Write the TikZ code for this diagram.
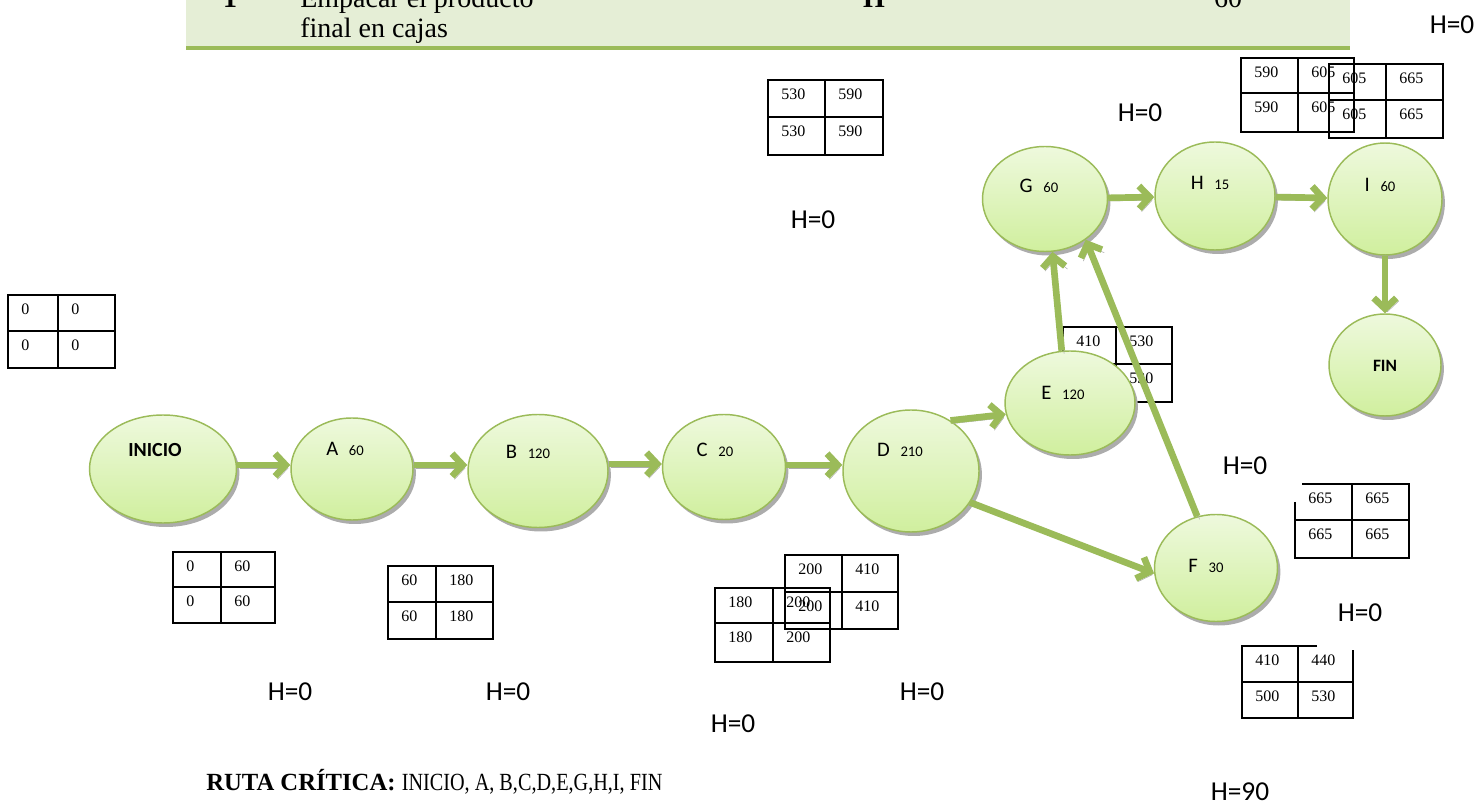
\documentclass[tikz,border=0pt]{standalone}
\usepackage{fontspec}
\setmainfont{Liberation Serif}
\newfontfamily\calib{Carlito}
\newfontfamily\narrowserif[FakeStretch=0.82]{Liberation Serif}
\usetikzlibrary{shapes.geometric,arrows.meta,shadows}
\definecolor{ngreen}{HTML}{9BBB59}
\definecolor{ntop}{HTML}{EEF9DD}
\definecolor{nbot}{HTML}{D0EF9E}
\definecolor{band}{HTML}{E5EED6}
\newcommand\tbl[6]{%
  \draw[cell] (#1,#2) rectangle (#5,#6);
  \draw[cell] (#3,#2) -- (#3,#6);
  \draw[cell] (#1,#4) -- (#5,#4);}
\newcommand\tnum[8]{%
  \node[num] at (#1+13,#2+14) {#5};
  \node[num] at (#3+13,#2+14) {#6};
  \node[num] at (#1+13,#4+14) {#7};
  \node[num] at (#3+13,#4+14) {#8};}
\begin{document}
\begin{tikzpicture}[x=0.75pt,y=-0.75pt,
  act/.style n args={2}{ellipse, draw=ngreen, line width=1.1pt, top color=ntop, bottom color=nbot,
     minimum width=#1*0.75pt, minimum height=#2*0.75pt, inner sep=0pt,
     general shadow={fill=gray!65, shadow xshift=2.2pt, shadow yshift=-3pt}},
  lbl/.style={font=\calib\fontsize{15.5}{17}\selectfont, inner sep=0pt},
  bl/.style={font=\calib\bfseries\fontsize{15}{17}\selectfont, inner sep=0pt},
  hz/.style={font=\calib\fontsize{20.5}{22}\selectfont, inner sep=0pt},
  num/.style={font=\fontsize{12}{14}\selectfont, inner sep=0pt, anchor=west},
  cell/.style={draw=black, line width=1.3pt},
  garr/.style={line width=5pt, draw=ngreen, -{Straight Barb[length=8pt,width=17pt]},
     preaction={draw=gray!65, transform canvas={shift={(1.8pt,-2.3pt)}}}},
  bandtxt/.style={font=\fontsize{21}{24}\selectfont, inner sep=0pt, anchor=base west}
]
\useasboundingbox (0,0) rectangle (1479,805);
\newcommand\sm[1]{{\fontsize{11}{13}\selectfont #1}}

% top band
\fill[band] (186,0) rectangle (1350,46);
\draw[ngreen, line width=2.5pt] (186,48) -- (1350,48);
\node[bandtxt, font=\bfseries\fontsize{21}{24}\selectfont, anchor=base] (b1) at (230,8) {1};
\node[bandtxt] (b2) at (300,8) {Empacar el producto};
\node[bandtxt] (b3) at (300,38) {final en cajas};
\node[bandtxt, font=\bfseries\fontsize{21}{24}\selectfont, anchor=base] (b4) at (874,8) {H};
\node[bandtxt, anchor=base] (b5) at (1228,8) {60};

% tables
\tbl{8}{295}{58}{331}{115}{368}
\tnum{8}{295}{58}{331}{0}{0}{0}{0}
\tbl{173}{552}{221}{587}{275}{623}
\tnum{173}{552}{221}{587}{0}{60}{0}{60}
\tbl{388}{566}{436}{602}{493}{639}
\tnum{388}{566}{436}{602}{60}{180}{60}{180}
\tbl{715}{588}{773}{623}{830}{662}
\tnum{715}{588}{773}{623}{180}{200}{180}{200}
\tbl{785}{555}{842}{592}{898}{629}
\tnum{785}{555}{842}{592}{200}{410}{200}{410}
\tbl{768}{80}{825}{117}{883}{155}
\tnum{768}{80}{825}{117}{530}{590}{530}{590}
\tbl{1241}{58}{1298}{93}{1354}{132}
\tnum{1241}{58}{1298}{93}{590}{605}{590}{605}
\tbl{1329}{64}{1386}{100}{1443}{138}
\tnum{1329}{64}{1386}{100}{605}{665}{605}{665}
\tbl{1063}{327}{1116}{364}{1172}{402}
\node[num] at (1076,341) {410};
\node[num] at (1129,341) {530};
\node[num] at (1129,378) {530};
% table with open corner (665)
\draw[cell] (1295,502) -- (1295,558) -- (1409,558) -- (1409,484) -- (1302,484);
\draw[cell] (1352,484) -- (1352,558);
\draw[cell] (1295,520) -- (1409,520);
\tnum{1295}{484}{1352}{520}{665}{665}{665}{665}
% table with open corner (410/440)
\draw[cell] (1317,646) -- (1242,646) -- (1242,718) -- (1353,718) -- (1353,650);
\draw[cell] (1298,646) -- (1298,718);
\draw[cell] (1242,682) -- (1353,682);
\tnum{1242}{646}{1298}{682}{410}{440}{500}{530}

% activity nodes
\node[act={147}{108}] (INICIO) at (163,469) {};
\node[act={122}{102}] (A) at (352,469) {};
\node[act={140}{113}] (B) at (538,471) {};
\node[act={123}{105}] (C) at (724,467) {};
\node[act={136}{122}] (D) at (911,471) {};
\node[act={130}{104}] (E) at (1070,403) {};
\node[act={123}{107}] (F) at (1216,568) {};
\node[act={125}{105}] (G) at (1045,199) {};
\node[act={120}{108}] (H) at (1215,196) {};
\node[act={114}{112}] (I) at (1385,199) {};
\node[act={112}{102}] (FIN) at (1385,365) {};

\node[bl] (tINICIO) at (155,450) {INICIO};
\node[lbl] (tA) at (345,449) {A\hspace{8pt}\sm{60}};
\node[lbl] (tB) at (528,452) {B\hspace{8pt}\sm{120}};
\node[lbl] (tC) at (715,450) {C\hspace{8pt}\sm{20}};
\node[lbl] (tD) at (900,450) {D\hspace{8pt}\sm{210}};
\node[lbl] (tE) at (1063,393) {E\hspace{8pt}\sm{120}};
\node[lbl] (tF) at (1206,566) {F\hspace{8pt}\sm{30}};
\node[lbl] (tG) at (1039,186) {G\hspace{8pt}\sm{60}};
\node[lbl] (tH) at (1210,183) {H\hspace{8pt}\sm{15}};
\node[lbl] (tI) at (1380,185) {I\hspace{8pt}\sm{60}};
\node[bl, font=\calib\bfseries\fontsize{13}{15}\selectfont] (tFIN) at (1385,366) {FIN};

% connectors
\draw[garr] (INICIO.east |- 0,465) -- (A.west |- 0,465);
\draw[garr] (A.east |- 0,465) -- (B.west |- 0,465);
\draw[garr] (B.east |- 0,464) -- (C.west |- 0,464);
\draw[garr] (C.east |- 0,465) -- (D.west |- 0,465);
\draw[garr] (D.52) -- (E.190);
\draw[garr] (D.-28) -- (F.185);
\draw[garr] (E.99) -- (G.-82);
\draw[garr] (F.110) -- (G.-45);
\draw[garr] (G) -- (H);
\draw[garr] (H) -- (I);
\draw[garr] (I) -- (FIN);

% slack labels
\node[hz] (h1) at (1452,25) {H=0};
\node[hz] (h2) at (1140,113) {H=0};
\node[hz] (h3) at (813,220) {H=0};
\node[hz] (h4) at (1245,466) {H=0};
\node[hz] (h5) at (1360,613) {H=0};
\node[hz] (h6) at (290,692) {H=0};
\node[hz] (h7) at (508,692) {H=0};
\node[hz] (h8) at (922,692) {H=0};
\node[hz] (h9) at (733,724) {H=0};
\node[hz] (h10) at (1240,792) {H=90};

\node[anchor=base west, inner sep=0pt, font=\fontsize{18.5}{20}\selectfont] (ruta) at (206,790)
  {\textbf{RUTA CRÍTICA:} {\narrowserif INICIO, A, B,C,D,E,G,H,I, FIN}};
\end{tikzpicture}
\end{document}
